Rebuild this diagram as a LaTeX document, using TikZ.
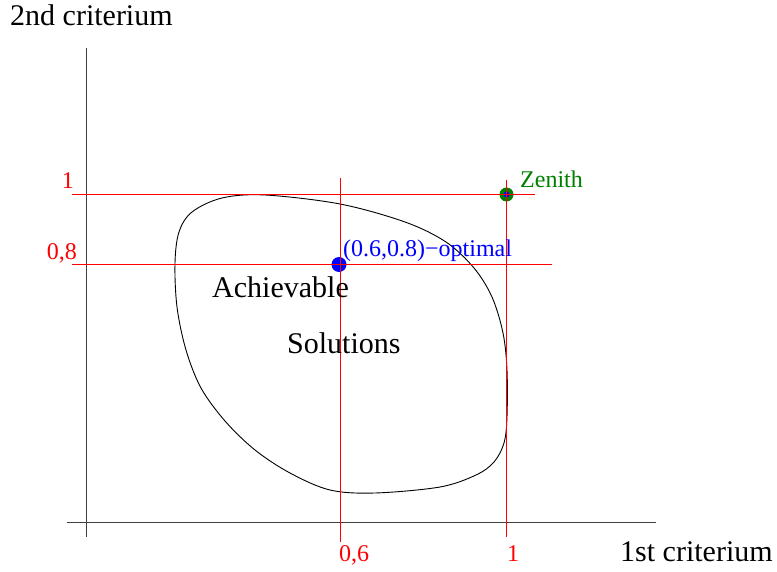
\documentclass[tikz,border=0pt]{standalone}
\usepackage{fontspec}
\setmainfont{Liberation Serif}
\begin{document}
\begin{tikzpicture}[x=1pt,y=-1pt,
  axis/.style={draw=black!75, line width=0.9pt},
  guide/.style={draw=red, line width=1pt},
  bigtxt/.style={font=\fontsize{30}{34}\selectfont, inner sep=0pt},
  redtxt/.style={font=\fontsize{24}{28}\selectfont, text=red, inner sep=0pt},
  dot/.style={circle, inner sep=0pt, minimum size=15pt}]
\useasboundingbox (0,0) rectangle (777,572);
% axes
\coordinate (ytop) at (86,48);
\coordinate (ybot) at (86,537);
\coordinate (xl) at (67,522);
\coordinate (xr) at (656,522);
\draw[axis] (ytop) -- (ybot);
\draw[axis] (xl) -- (xr);
% region
\draw[black, line width=0.9pt] plot[smooth cycle, tension=0.55] coordinates {
 (265,195) (340,204) (405,222) (446,242) (474,268) (492,297) (503,333)
 (507,370) (507,417) (504,443) (494,462) (476,475) (440,487) (375,493)
 (330,490) (290,473) (255,450) (225,421) (201,388) (186,350) (177,307)
 (175,263) (179,232) (192,212) (222,198)};
% dots
\node[dot, fill=blue] (opt) at (339,264.5) {};
\node[dot, fill=green!50!black, minimum size=14pt] (zen) at (506.5,194.5) {};
\node[circle, inner sep=0pt, minimum size=6pt, fill=blue] (zenc) at (zen.center) {};
% guide lines
\coordinate (h1l) at (72,194.5); \coordinate (h1r) at (535,194.5);
\coordinate (h2l) at (72,264.5); \coordinate (h2r) at (552,264.5);
\coordinate (v1t) at (340,178); \coordinate (v1b) at (340,542);
\coordinate (v2t) at (506.5,180); \coordinate (v2b) at (506.5,537);
\draw[guide] (h1l) -- (h1r);
\draw[guide] (h2l) -- (h2r);
\draw[guide] (v1t) -- (v1b);
\draw[guide] (v2t) -- (v2b);
% labels
\node[bigtxt, anchor=base west] (ylab) at (10,26) {2nd criterium};
\node[bigtxt, anchor=base west] (xlab) at (620,561) {1st criterium};
\node[bigtxt, anchor=base west] (ach) at (212,298) {Achievable};
\node[bigtxt, anchor=base west] (sol) at (287,353) {Solutions};
\node[redtxt, anchor=base east] (l1) at (74,189) {1};
\node[redtxt, anchor=base east] (l08) at (77,260) {0,8};
\node[redtxt, anchor=base west] (l06) at (339,561) {0,6};
\node[redtxt, anchor=base west] (l1b) at (507,561) {1};
\node[redtxt, anchor=base west, text=green!50!black] (zlab) at (520,188) {Zenith};
\node[redtxt, anchor=base west, text=blue] (olab) at (343,257) {(0.6,0.8)−optimal};
\end{tikzpicture}
\end{document}
